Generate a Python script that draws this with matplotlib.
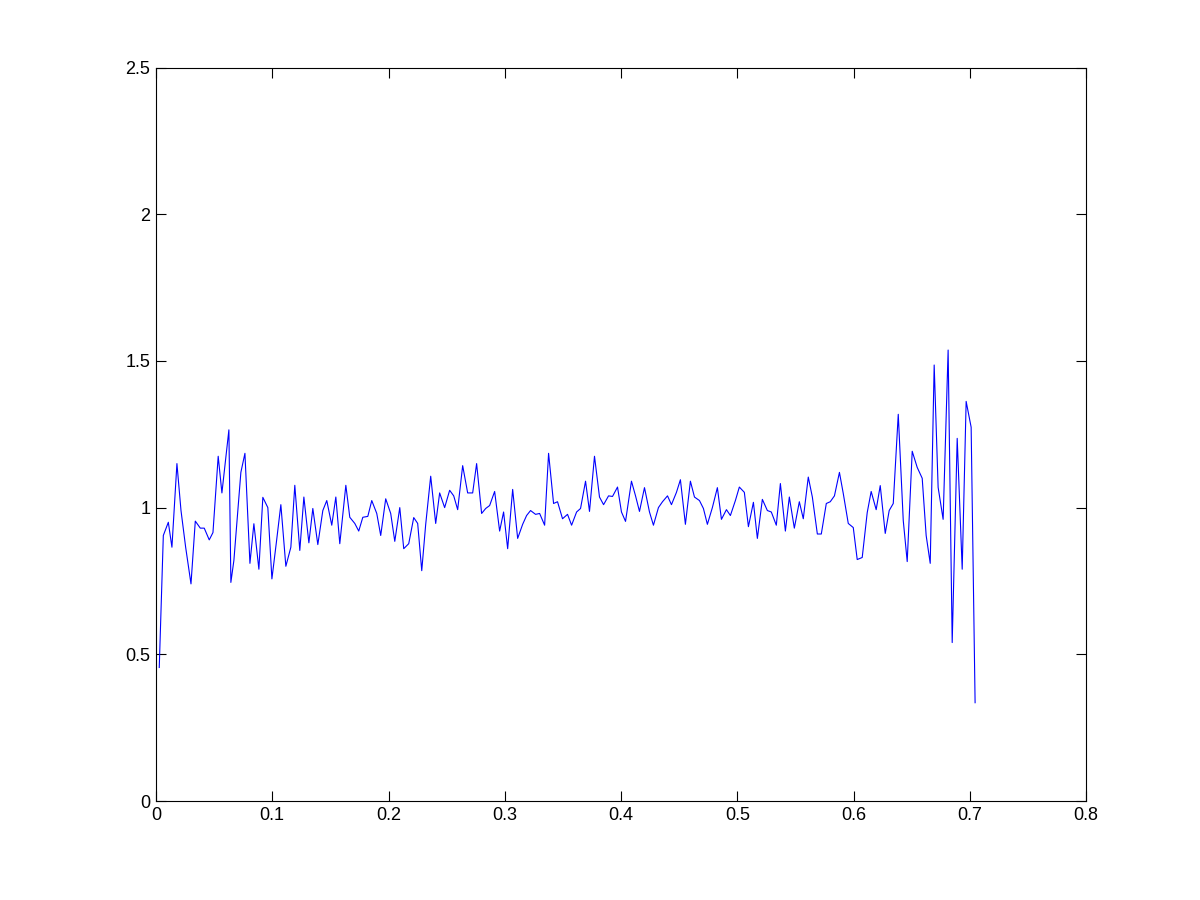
import numpy as np
import matplotlib
matplotlib.use('Agg')
import matplotlib.pyplot as plt

# values
x = [0.0028, 0.0063, 0.0106, 0.0137, 0.0180, 0.0215, 0.0255, 0.0301, 0.0338, 0.0381,
     0.0415, 0.0458, 0.0490, 0.0535, 0.0567, 0.0627, 0.0644, 0.0670, 0.0730, 0.0765,
     0.0808, 0.0842, 0.0885, 0.0919, 0.0962, 0.0997, 0.1035, 0.1074, 0.1117, 0.1160,
     0.1194, 0.1237, 0.1272, 0.1315, 0.1349, 0.1392, 0.1435, 0.1469, 0.1512, 0.1547,
     0.1581, 0.1633, 0.1667, 0.1710, 0.1744, 0.1779, 0.1822, 0.1856, 0.1899, 0.1933,
     0.1976, 0.2019, 0.2054, 0.2097, 0.2131, 0.2174, 0.2217, 0.2251, 0.2286, 0.2320,
     0.2363, 0.2406, 0.2440, 0.2483, 0.2526, 0.2561, 0.2595, 0.2638, 0.2681, 0.2724,
     0.2758, 0.2801, 0.2836, 0.2870, 0.2913, 0.2956, 0.2990, 0.3025, 0.3068, 0.3111,
     0.3154, 0.3188, 0.3222, 0.3265, 0.3300, 0.3343, 0.3377, 0.3420, 0.3454, 0.3497,
     0.3540, 0.3575, 0.3618, 0.3652, 0.3695, 0.3729, 0.3772, 0.3815, 0.3850, 0.3893,
     0.3927, 0.3970, 0.4004, 0.4039, 0.4090, 0.4125, 0.4159, 0.4202, 0.4245, 0.4279,
     0.4322, 0.4357, 0.4400, 0.4434, 0.4477, 0.4511, 0.4554, 0.4597, 0.4632, 0.4675,
     0.4709, 0.4743, 0.4786, 0.4829, 0.4864, 0.4907, 0.4941, 0.4984, 0.5018, 0.5061,
     0.5096, 0.5139, 0.5173, 0.5216, 0.5259, 0.5293, 0.5336, 0.5371, 0.5414, 0.5448,
     0.5491, 0.5534, 0.5568, 0.5611, 0.5646, 0.5689, 0.5723, 0.5766, 0.5800, 0.5836,
     0.5879, 0.5912, 0.5955, 0.5998, 0.6032, 0.6075, 0.6118, 0.6152, 0.6195, 0.6230,
     0.6273, 0.6307, 0.6342, 0.6385, 0.6428, 0.6462, 0.6505, 0.6548, 0.6591, 0.6625,
     0.6660, 0.6694, 0.6728, 0.6771, 0.6814, 0.6849, 0.6892, 0.6935, 0.6969, 0.7012,
     0.7046]
y = [0.455, 0.905, 0.950, 0.865, 1.150, 0.990, 0.865, 0.740, 0.954, 0.930,
     0.930, 0.890, 0.915, 1.175, 1.050, 1.265, 0.745, 0.820, 1.120, 1.185,
     0.810, 0.945, 0.790, 1.035, 1.000, 0.757, 0.880, 1.010, 0.800, 0.865,
     1.076, 0.854, 1.036, 0.880, 0.997, 0.874, 0.990, 1.024, 0.940, 1.036,
     0.877, 1.076, 0.967, 0.946, 0.920, 0.967, 0.970, 1.024, 0.980, 0.905,
     1.030, 0.980, 0.885, 1.000, 0.860, 0.877, 0.966, 0.946, 0.785, 0.943,
     1.107, 0.946, 1.050, 1.000, 1.059, 1.040, 0.993, 1.143, 1.050, 1.050,
     1.150, 0.980, 0.997, 1.007, 1.055, 0.920, 0.985, 0.860, 1.062, 0.895,
     0.943, 0.973, 0.990, 0.977, 0.980, 0.940, 1.185, 1.014, 1.020, 0.962,
     0.977, 0.940, 0.985, 0.997, 1.090, 0.987, 1.175, 1.036, 1.010, 1.040,
     1.038, 1.070, 0.985, 0.953, 1.090, 1.040, 0.987, 1.068, 0.985, 0.940,
     1.000, 1.020, 1.040, 1.010, 1.052, 1.095, 0.943, 1.090, 1.036, 1.024,
     0.997, 0.943, 1.000, 1.068, 0.960, 0.993, 0.973, 1.024, 1.070, 1.052,
     0.935, 1.018, 0.895, 1.028, 0.990, 0.985, 0.940, 1.082, 0.920, 1.036,
     0.930, 1.020, 0.962, 1.104, 1.036, 0.910, 0.910, 1.014, 1.020, 1.040,
     1.120, 1.048, 0.946, 0.932, 0.823, 0.830, 0.983, 1.055, 0.993, 1.075,
     0.912, 0.990, 1.014, 1.318, 0.956, 0.816, 1.192, 1.137, 1.100, 0.905,
     0.810, 1.486, 1.069, 0.960, 1.537, 0.540, 1.236, 0.790, 1.362, 1.274,
     0.335]

x_ticks = [0, 0.1, 0.2, 0.3, 0.4, 0.5, 0.6, 0.7, 0.8]
x_labels = ['0', '0.1', '0.2', '0.3', '0.4', '0.5', '0.6', '0.7', '0.8']
y_ticks = [0, 0.5, 1, 1.5, 2, 2.5]
y_labels = ['0', '0.5', '1', '1.5', '2', '2.5']

plt.rcParams['font.family'] = ['Liberation Sans', 'DejaVu Sans']

fig = plt.figure(figsize=(12, 9), dpi=100)
fig.patch.set_facecolor('white')
ax = fig.add_axes([0.13, 0.11, 0.775, 0.815])

ax.plot(x, y, color=(0, 0, 1), linewidth=0.8)

ax.set_xlim(0, 0.8)
ax.set_ylim(0, 2.5)
ax.set_xticks(x_ticks)
ax.set_xticklabels(x_labels)
ax.set_yticks(y_ticks)
ax.set_yticklabels(y_labels)
ax.tick_params(direction='in', length=7, width=0.8, top=True, right=True,
               labelsize=13, pad=4)
for s in ax.spines.values():
    s.set_linewidth(0.8)

fig.savefig('out.png', dpi=100, facecolor='white')
